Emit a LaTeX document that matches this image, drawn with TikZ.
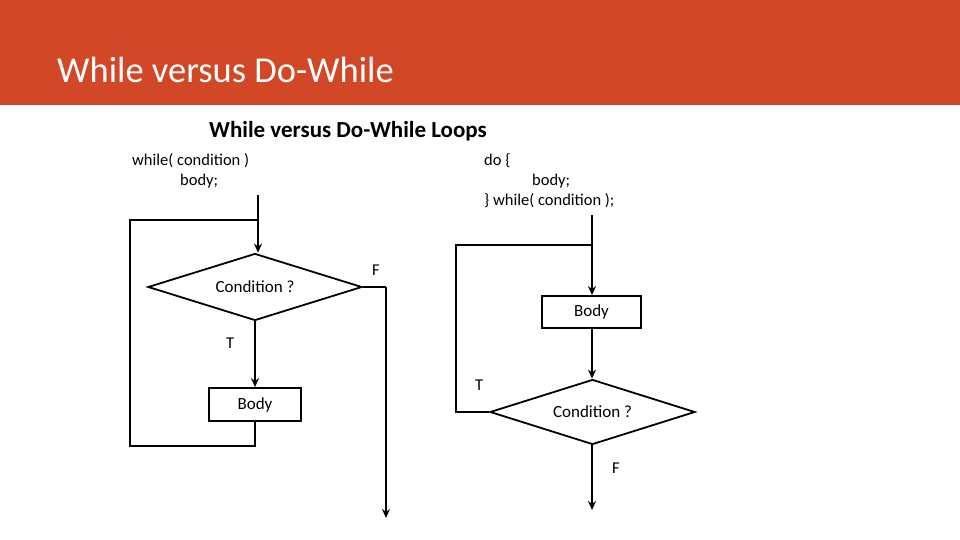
\documentclass[tikz,border=0pt]{standalone}
\usepackage{fontspec}
\setmainfont{Carlito}
\usetikzlibrary{shapes.geometric,arrows.meta}
\definecolor{hdr}{HTML}{D24726}
\begin{document}
\begin{tikzpicture}[x=1pt,y=-1pt,
  ln/.style={line width=1.8pt,black},
  ar/.style={ln,-{Stealth[length=9pt,width=8pt]}},
  boxn/.style={draw,line width=1.8pt,minimum width=92pt,minimum height=33pt,inner sep=0pt,font=\fontsize{17}{19}\selectfont},
  dia/.style={draw,line width=1.8pt,diamond,aspect=2.2,inner sep=0pt,font=\fontsize{17}{19}\selectfont},
  txt/.style={font=\fontsize{16.5}{18}\selectfont,anchor=west,inner sep=0pt}]
\useasboundingbox (0,0) rectangle (960,540);
\fill[hdr] (0,0) rectangle (960,105);
\node[anchor=west,text=white,font=\fontsize{36.5}{40}\selectfont,inner sep=0pt] (title) at (57,70) {While versus Do-While};
\node[font=\bfseries\fontsize{23}{26}\selectfont,inner sep=0pt] (st) at (348,131) {While versus Do-While Loops};
% left
\node[txt] (c1) at (132,161) {while( condition )};
\node[txt] (c2) at (180,181) {body;};
\node[dia,minimum width=214pt,minimum height=67pt] (d1) at (255,287) {Condition ?};
\node[boxn,minimum width=92pt] (b1) at (255,404.5) {Body};
\coordinate (s1) at (258,195);
\coordinate (j1) at (258,220);
\coordinate (e1) at (386,518);
\draw[ar] (s1) -- (d1.north -| s1);
\draw[ln] (d1.east) -- (d1.east -| e1);
\draw[ar] (d1.east -| e1) -- (e1);
\draw[ar] (d1.south) -- (b1.north);
\draw[ln] (b1.south) -- ++(0,24) -| (130,220) -- (j1);
\node[txt] (f1) at (372,270) {F};
\node[txt] (t1) at (226,343) {T};
% right
\node[txt] (c3) at (484,161) {do \{};
\node[txt] (c4) at (532,181) {body;};
\node[txt] (c5) at (484,201) {\} while( condition );};
\node[boxn,minimum width=99pt,minimum height=32pt] (b2) at (591.5,312) {Body};
\node[dia,minimum width=205pt,minimum height=65pt] (d2) at (592.5,412) {Condition ?};
\coordinate (s2) at (592,215);
\coordinate (j2) at (592,245);
\coordinate (e2) at (592,510);
\draw[ar] (s2) -- (b2.north -| s2);
\draw[ar] (b2.south -| s2) -- (d2.north -| s2);
\draw[ln] (d2.west) -- (456,412) -- (456,245) -- (j2);
\draw[ar] (d2.south -| e2) -- (e2);
\node[txt] (t2) at (475,385) {T};
\node[txt] (f2) at (612,468) {F};
\end{tikzpicture}
\end{document}
